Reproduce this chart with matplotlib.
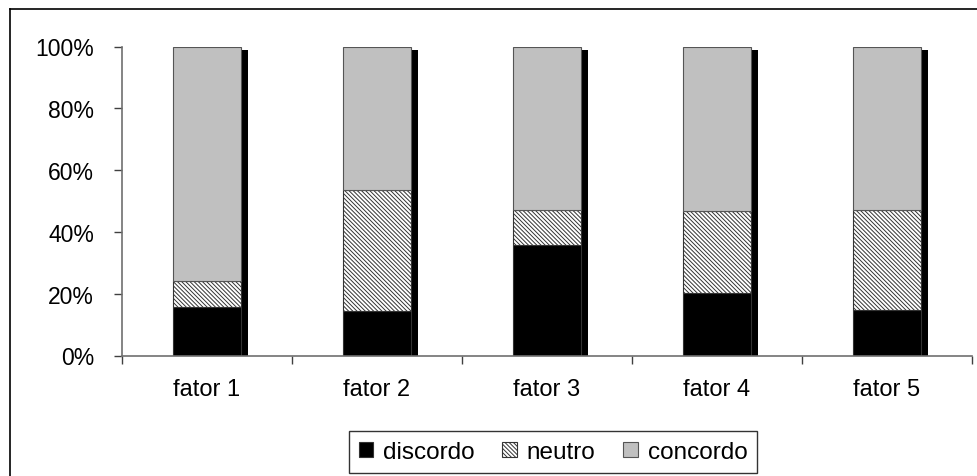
import matplotlib
matplotlib.use("Agg")
import matplotlib.pyplot as plt
import matplotlib.ticker as ticker
from matplotlib import patheffects
from matplotlib.lines import Line2D
import numpy as np

plt.rcParams['font.family'] = ['Liberation Sans', 'DejaVu Sans']
plt.rcParams['hatch.color'] = '#7a7a7a'
plt.rcParams['hatch.linewidth'] = 0.7

# dados (proporções)
fatores = ["fator 1", "fator 2", "fator 3", "fator 4", "fator 5"]
discordo = [0.156, 0.145, 0.358, 0.202, 0.148]
neutro = [0.084, 0.392, 0.114, 0.265, 0.324]
concordo = [0.760, 0.463, 0.528, 0.533, 0.528]

x = np.arange(1, len(fatores) + 1)
width = 0.4

fig = plt.figure(figsize=(9.77, 4.77), dpi=100)
ax = fig.add_axes([122 / 977, 120.5 / 477, 850 / 977, 309 / 477])

totais = np.array(discordo) + np.array(neutro) + np.array(concordo)

# sombra atrás das barras
ax.bar(x, totais, width=width, color='none', zorder=1,
       path_effects=[patheffects.SimplePatchShadow(offset=(5.2, -2.3),
                                                    shadow_rgbFace='black', alpha=1.0)])

ax.bar(x, discordo, width=width, color='black', edgecolor='#333333',
       linewidth=0.8, label='discordo', zorder=2)
ax.bar(x, neutro, width=width, bottom=discordo, color='white', edgecolor='#333333',
       hatch='\\\\\\\\\\\\\\\\', linewidth=0.8, label='neutro', zorder=2)
ax.bar(x, concordo, width=width, bottom=np.array(discordo) + np.array(neutro),
       color='#C0C0C0', edgecolor='#555555', linewidth=0.8, label='concordo', zorder=2)

ax.set_xlim(0.5, 5.5)
ax.set_ylim(0, 1)
ax.set_yticks(np.arange(0, 1.01, 0.2))
ax.yaxis.set_major_formatter(ticker.FuncFormatter(lambda v, pos: f"{v * 100:.0f}%"))

ax.set_xticks(x)
ax.set_xticklabels(fatores)
ax.set_xticks(np.arange(0.5, 5.6, 1), minor=True)
ax.tick_params(axis='x', which='major', length=0, pad=16, labelsize=17)
ax.tick_params(axis='x', which='minor', length=6, width=1, color='#404040', direction='out')
ax.tick_params(axis='y', length=6, width=1, color='#404040', pad=14, labelsize=16.5)

for s in ['top', 'right']:
    ax.spines[s].set_visible(False)
for s in ['left', 'bottom']:
    ax.spines[s].set_color('#707070')
    ax.spines[s].set_linewidth(1.2)

leg = fig.legend(loc='center', bbox_to_anchor=(553 / 977, 1 - 453 / 477), ncol=3,
                 fontsize=17.5, frameon=True, fancybox=False, handlelength=0.6,
                 handleheight=0.6, handletextpad=0.4, columnspacing=1.15,
                 borderpad=0.4, borderaxespad=0)
leg.get_frame().set_edgecolor('black')
leg.get_frame().set_linewidth(1.0)

# moldura do gráfico (cortada à direita e embaixo)
fig.add_artist(Line2D([9.5 / 977, 9.5 / 977], [0, 1 - 9.5 / 477], color='black', lw=1.2))
fig.add_artist(Line2D([9.5 / 977, 1], [1 - 9.5 / 477, 1 - 9.5 / 477], color='black', lw=1.2))

fig.savefig("out.png", dpi=100)
plt.close(fig)
